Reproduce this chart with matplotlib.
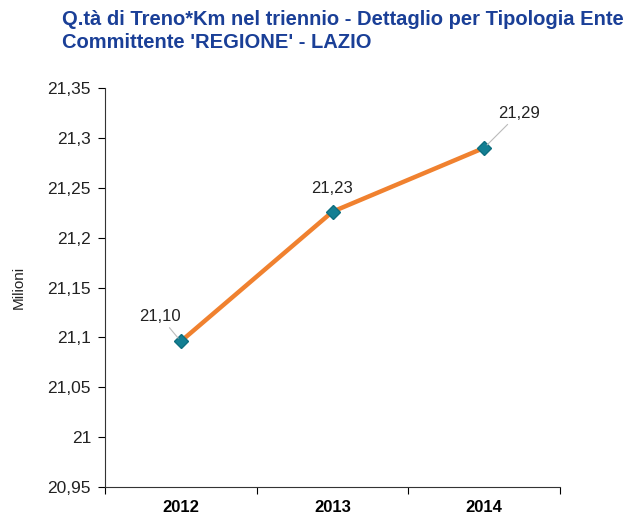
import matplotlib
matplotlib.use("Agg")
import matplotlib.pyplot as plt
from matplotlib.ticker import FuncFormatter

plt.rcParams['font.family'] = ['Liberation Sans', 'DejaVu Sans']

years = ['2012', '2013', '2014']
values = [21.096, 21.226, 21.29]
labels = ['21,10', '21,23', '21,29']
yticks = [20.95, 21.0, 21.05, 21.1, 21.15, 21.2, 21.25, 21.3, 21.35]

fig = plt.figure(figsize=(6.35, 5.15), dpi=100)
ax = fig.add_axes([105 / 635, 28 / 515, 455 / 635, 399 / 515])

x = list(range(len(years)))
ax.plot(x, values, color='#F0812F', linewidth=3.2, zorder=2)
ax.plot(x, values, linestyle='none', marker='D', markersize=7,
        markerfacecolor='#137F93', markeredgecolor='#0E6F80', zorder=3)

# data labels, leader lines only where the label sits off to the side
offsets = [(-15, 18), (0, 16.5), (25, 25)]
leaders = [True, False, True]
for xi, v, lab, (dx, dy), lead in zip(x, values, labels, offsets, leaders):
    arrow = dict(arrowstyle='-', color='#BBBBBB', lw=0.8, shrinkA=1, shrinkB=3) if lead else None
    ax.annotate(lab, xy=(xi, v), xytext=(dx, dy), textcoords='offset points',
                ha='center', va='center', fontsize=12, color='#222222',
                arrowprops=arrow)

ax.set_xlim(-0.5, 2.5)
ax.set_ylim(20.95, 21.35)
ax.set_yticks(yticks)
ax.yaxis.set_major_formatter(FuncFormatter(
    lambda v, p: ('%.2f' % v).rstrip('0').rstrip('.').replace('.', ',')))
ax.set_xticks([-0.5, 0.5, 1.5, 2.5])
ax.set_xticklabels([])
ax.set_xticks(x, minor=True)
ax.set_xticklabels(years, minor=True, fontweight='bold', fontsize=12)
ax.tick_params(axis='x', which='minor', length=0, pad=9)
ax.tick_params(axis='x', which='major', length=5, direction='out')
ax.tick_params(axis='y', length=5, direction='out', labelsize=12.5,
               labelcolor='#222222', pad=5)

for s in ['top', 'right']:
    ax.spines[s].set_visible(False)
ax.spines['left'].set_color('#333333')
ax.spines['bottom'].set_color('#333333')

ax.set_ylabel('Milioni', fontsize=11, color='#222222', labelpad=16)

fig.text(62 / 635, 1 - 10 / 515,
         "Q.tà di Treno*Km nel triennio - Dettaglio per Tipologia Ente\nCommittente 'REGIONE' - LAZIO",
         ha='left', va='top', fontsize=14.5, fontweight='bold', color='#1A3F97',
         linespacing=1.3)

fig.savefig('out.png', dpi=100)
